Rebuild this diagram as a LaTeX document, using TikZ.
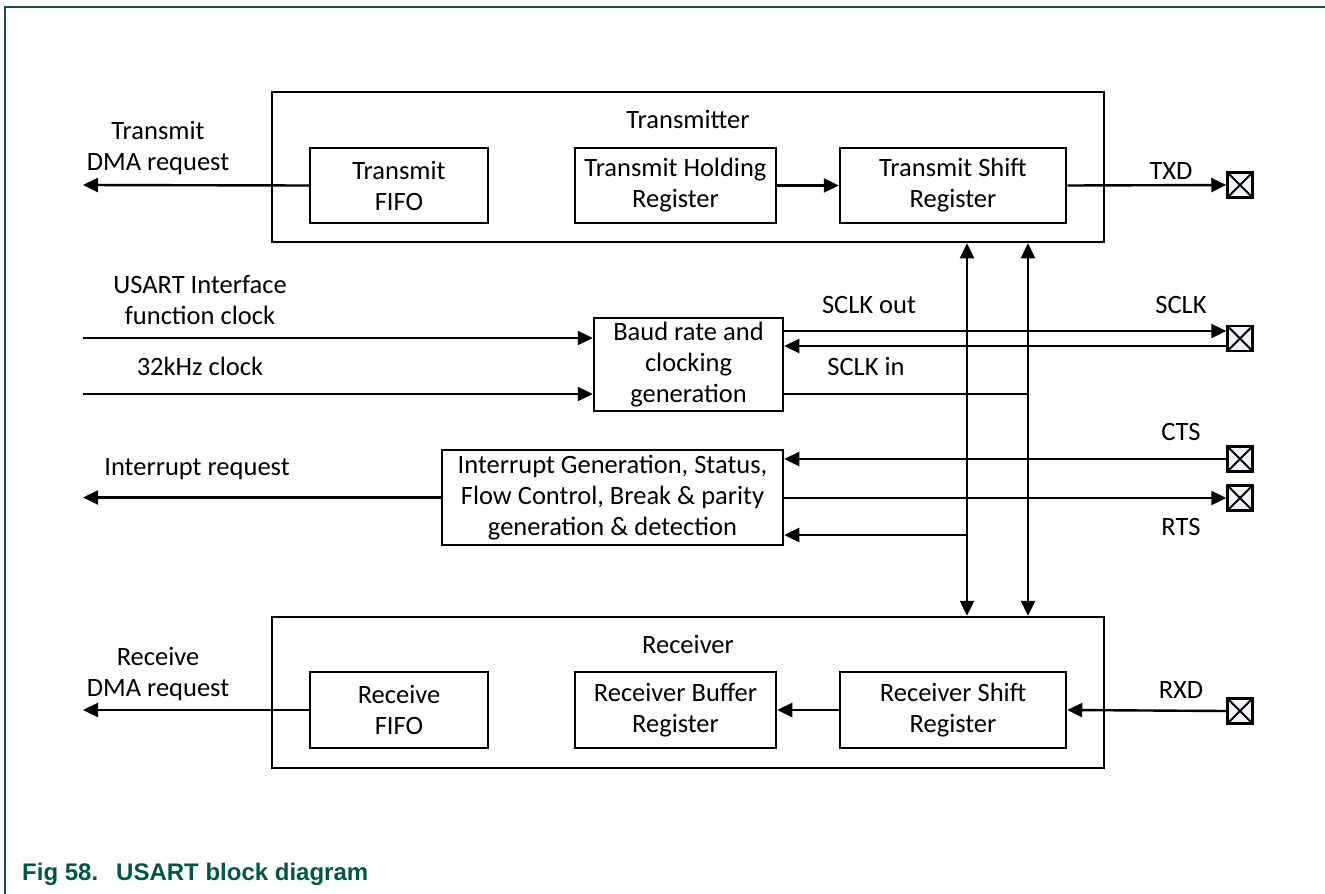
\documentclass[tikz,border=0pt]{standalone}
\usepackage{fontspec}
\setmainfont{Carlito}
\newfontfamily\capfont{Liberation Sans}
\usetikzlibrary{arrows.meta}
\definecolor{framegreen}{RGB}{22,82,70}
\definecolor{capgreen}{RGB}{0,86,72}
\definecolor{pinfill}{RGB}{240,242,250}
\begin{document}
\begin{tikzpicture}[x=1pt,y=-1pt,
  font=\fontsize{26.5}{31}\selectfont,
  box/.style={draw, line width=2.5pt, inner sep=0pt, align=center, fill=white},
  pin/.style={draw, line width=2.5pt, minimum width=25pt, minimum height=25pt, inner sep=0pt, fill=pinfill,
     path picture={\draw[line width=2pt] (path picture bounding box.south west) -- (path picture bounding box.north east)
       (path picture bounding box.north west) -- (path picture bounding box.south east);}},
  conn/.style={line width=2.4pt},
  arr/.style={conn, -{Triangle[length=15pt,width=14pt]}},
  arrb/.style={conn, {Triangle[length=15pt,width=14pt]}-{Triangle[length=15pt,width=14pt]}},
  lbl/.style={align=center, inner sep=0pt}
]
\useasboundingbox (0,0) rectangle (1325,894);
\draw[framegreen, line width=2pt] (5,894) -- (5,7) -- (1325,7);

% Transmitter
\node[box, minimum width=832pt, minimum height=150pt] (tx) at (688,167) {};
\node[lbl] (txl) at (688,119) {Transmitter};
\node[box, minimum width=178pt, minimum height=75pt] (tfifo) at (399,185.5) {Transmit\\FIFO};
\node[box, minimum width=201pt, minimum height=75pt] (thold) at (675.5,185.5) {Transmit Holding\\Register};
\node[box, minimum width=226pt, minimum height=75pt] (tshift) at (953,185.5) {Transmit Shift\\Register};

% Receiver
\node[box, minimum width=832pt, minimum height=151pt] (rx) at (688,692.5) {};
\node[lbl] (rxl) at (688,644) {Receiver};
\node[box, minimum width=178pt, minimum height=76pt] (rfifo) at (399,710) {Receive\\FIFO};
\node[box, minimum width=201pt, minimum height=76pt] (rbuf) at (675.5,710) {Receiver Buffer\\Register};
\node[box, minimum width=226pt, minimum height=76pt] (rshift) at (953,710) {Receiver Shift\\Register};

% Middle boxes
\node[box, minimum width=189pt, minimum height=93pt] (baud) at (688.5,364.5) {Baud rate and\\clocking\\generation};
\node[box, minimum width=341pt, minimum height=95pt] (intr) at (612.5,497.5) {Interrupt Generation, Status,\\Flow Control, Break \& parity\\generation \& detection};

% Pins
\node[pin] (ptxd) at (1240,185) {};
\node[pin] (psclk) at (1240,338.5) {};
\node[pin] (pcts) at (1240,459) {};
\node[pin] (prts) at (1240,498) {};
\node[pin] (prxd) at (1240,711) {};

% coordinates
\coordinate (tdma) at (83,185);
\coordinate (rdma) at (83,710);
\coordinate (irq) at (83,497.5);
\coordinate (clkA) at (83,338);
\coordinate (clkB) at (83,394);
\coordinate (v1) at (967,0);
\coordinate (v2) at (1028,0);
\coordinate (so) at (0,331);
\coordinate (si) at (0,346);
\coordinate (bb) at (0,394);
\coordinate (ib) at (0,535);

% connectors
\draw[arr] (tfifo.west) -- (tdma);
\draw[arr] (thold.east) -- (tshift.west);
\draw[arr] (tshift.east) -- (ptxd.west);
\draw[arr] (rfifo.west) -- (rdma);
\draw[arr] (rshift.west) -- (rbuf.east);
\draw[arr] (prxd.west) -- (rshift.east);
\draw[arr] (clkA) -- (clkA -| baud.west);
\draw[arr] (clkB) -- (clkB -| baud.west);
\draw[arr] (baud.east |- so) -- (psclk.west |- so);
\draw[arr] (psclk.west |- si) -- (baud.east |- si);
\draw[conn] (baud.east |- bb) -- (v2 |- bb);
\draw[arrb] (tx.south -| v1) -- (rx.north -| v1);
\draw[arrb] (tx.south -| v2) -- (rx.north -| v2);
\draw[arr] (pcts.west) -- (intr.east |- pcts);
\draw[arr] (intr.east |- prts) -- (prts.west);
\draw[arr] (v1 |- ib) -- (intr.east |- ib);
\draw[arr] (intr.west) -- (irq);

% labels
\node[lbl] (ltdma) at (158,148.5) {Transmit\\DMA request};
\node[lbl] (lrdma) at (158,674) {Receive\\DMA request};
\node[lbl] (lclk) at (200,300) {USART Interface\\function clock};
\node[lbl] (l32) at (200,366) {32kHz clock};
\node[lbl] (lirq) at (197,469) {Interrupt request};
\node[lbl] (lso) at (869,305) {SCLK out};
\node[lbl] (lsclk) at (1181,305) {SCLK};
\node[lbl] (lsi) at (866,366) {SCLK in};
\node[lbl] (ltxd) at (1171,171) {TXD};
\node[lbl] (lcts) at (1181,432) {CTS};
\node[lbl] (lrts) at (1181,527) {RTS};
\node[lbl] (lrxd) at (1181,690) {RXD};

\node[anchor=west, inner sep=0pt, text=capgreen, font=\capfont\bfseries\fontsize{24}{28}\selectfont] (cap) at (22,874) {Fig 58.\hspace{18pt}USART block diagram};
\end{tikzpicture}
\end{document}
